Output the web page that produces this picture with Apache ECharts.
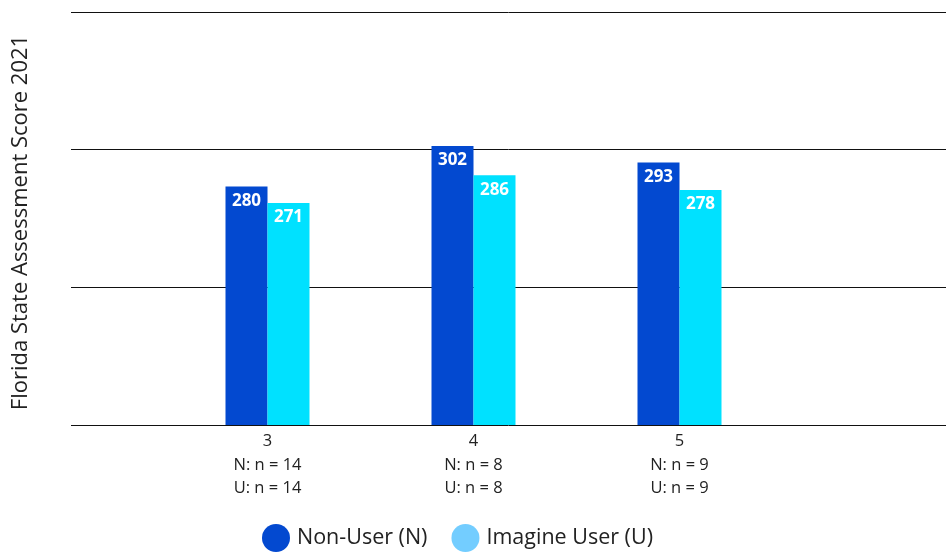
<!DOCTYPE html>
<html>
<head>
<meta charset="utf-8">
<script src="https://cdn.jsdelivr.net/npm/echarts@6/dist/echarts.min.js"></script>
<style>html,body{margin:0;padding:0;background:#fff}#c{width:946px;height:552px}</style>
</head>
<body>
<div id="c"></div>
<script>
var grades = ['3', '4', '5'];
var nNonUser = [14, 8, 9];
var nUser = [14, 8, 9];
var nonUser = [280, 302, 293];
var imagineUser = [271, 286, 278];
var seriesNames = ['Non-User (N)', 'Imagine User (U)'];
var yAxisTitle = 'Florida State Assessment Score 2021';

var FONT = '"Open Sans", "Noto Sans", sans-serif';
var categories = grades.map(function (g, i) {
  return g + '\nN: n = ' + nNonUser[i] + '\nU: n = ' + nUser[i];
});

var chart = echarts.init(document.getElementById('c'), null, {renderer: 'canvas'});
chart.setOption({
  animation: false,
  textStyle: {fontFamily: FONT},
  grid: [
    {left: 71, right: 0, top: 12, bottom: 127},
    {left: 164.5, right: 163.5, top: 12, bottom: 127}
  ],
  xAxis: [
    {gridIndex: 0, type: 'value', min: 0, max: 1, show: false},
    {
      gridIndex: 1, type: 'category', data: categories,
      axisLine: {show: false}, axisTick: {show: false},
      axisLabel: {color: '#222', fontSize: 16.5, lineHeight: 23.5, margin: 5, fontFamily: FONT}
    }
  ],
  yAxis: [
    {
      gridIndex: 0, type: 'value', min: 150, max: 375, interval: 75,
      axisLine: {show: false}, axisTick: {show: false}, axisLabel: {show: false},
      splitLine: {show: true, lineStyle: {color: '#111', width: 1}},
      name: yAxisTitle, nameLocation: 'middle', nameGap: 39,
      nameTextStyle: {color: '#222', fontSize: 22, fontFamily: FONT, padding: [0, 8, 0, 0]}
    },
    {gridIndex: 1, type: 'value', min: 150, max: 375, interval: 75, show: false}
  ],
  legend: {
    left: 257, top: 519, icon: 'circle', itemWidth: 28, itemHeight: 28, itemGap: 24,
    textStyle: {color: '#222', fontSize: 21.5, fontFamily: FONT, padding: [0, 0, 0, 2]},
    data: [
      {name: seriesNames[0], itemStyle: {color: '#0349D0'}},
      {name: seriesNames[1], itemStyle: {color: '#73CDFF'}}
    ]
  },
  series: [
    {
      name: seriesNames[0], type: 'bar', xAxisIndex: 1, yAxisIndex: 1,
      data: nonUser, barWidth: 42, barGap: '0%',
      itemStyle: {color: '#0349D0'},
      label: {show: true, position: 'insideTop', distance: 6, color: '#fff', fontWeight: 'bold', fontSize: 17, fontFamily: FONT}
    },
    {
      name: seriesNames[1], type: 'bar', xAxisIndex: 1, yAxisIndex: 1,
      data: imagineUser, barWidth: 42, barGap: '0%',
      itemStyle: {color: '#00E1FF'},
      label: {show: true, position: 'insideTop', distance: 6, color: '#fff', fontWeight: 'bold', fontSize: 17, fontFamily: FONT}
    }
  ]
});
</script>
</body>
</html>
